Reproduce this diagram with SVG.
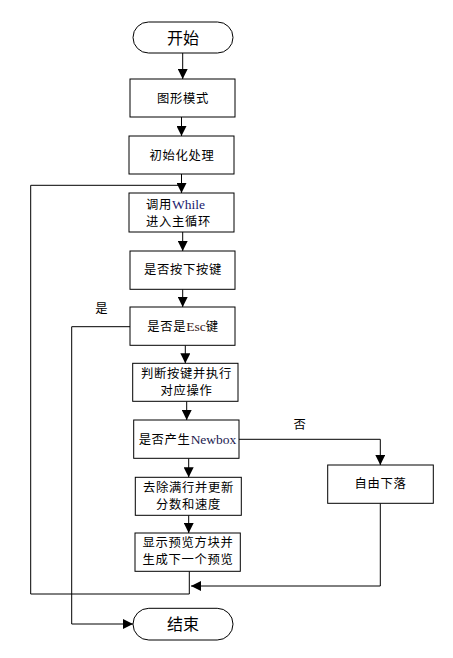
<svg xmlns="http://www.w3.org/2000/svg" width="453" height="658" viewBox="0 0 453 658">
<defs>
<marker id="arr" markerUnits="userSpaceOnUse" markerWidth="10" markerHeight="10" refX="10" refY="5" orient="auto">
<path d="M0,0 L10,5 L0,10 z" fill="#000"/>
</marker>
<style>
.box{fill:#fff;stroke:#000;stroke-width:1}
.t{font-family:"Noto Sans CJK SC","Noto Sans",sans-serif;font-size:12.3px;letter-spacing:0.7px;fill:#000}
.tt{font-family:"Noto Sans CJK SC","Noto Sans",sans-serif;font-size:16px;fill:#000}
.en{font-family:"Liberation Serif",serif;font-size:13.5px;letter-spacing:0}
.c{fill:none;stroke:#000;stroke-width:1}
.a{marker-end:url(#arr)}
</style>
</defs>
<rect width="453" height="658" fill="#fff"/>
<g id="connectors">
<line class="c a" x1="182.7" y1="53" x2="182.7" y2="79"/>
<line class="c a" x1="181.5" y1="117" x2="181.5" y2="136"/>
<polyline class="c" points="189.3,571.3 189.3,594 30.7,594 30.7,185.3 181.5,185.3"/>
<line class="c a" x1="181.5" y1="174" x2="181.5" y2="193"/>
<line class="c a" x1="182.7" y1="232" x2="182.7" y2="251"/>
<line class="c a" x1="182.7" y1="289.3" x2="182.7" y2="307"/>
<polyline class="c a" points="130,326.7 71.7,326.7 71.7,624 133,624"/>
<line class="c a" x1="185.3" y1="345.3" x2="185.3" y2="363.3"/>
<line class="c a" x1="186.7" y1="401.3" x2="186.7" y2="420"/>
<polyline class="c a" points="239,439.3 380.3,439.3 380.3,465"/>
<line class="c a" x1="188.7" y1="458.3" x2="188.7" y2="477.3"/>
<line class="c a" x1="188.7" y1="515.3" x2="188.7" y2="533"/>
<polyline class="c a" points="380.3,503.3 380.3,586 191,586"/>
<text class="t" x="101.7" y="312.5" text-anchor="middle">是</text>
<text class="t" x="300" y="428.5" text-anchor="middle">否</text>
</g>
<g id="start">
<rect class="box" x="133" y="22" width="100" height="31" rx="15.5"/>
<text class="tt" x="183" y="43.5" text-anchor="middle">开始</text>
</g>
<g id="graphmode">
<rect class="box" x="130" y="79" width="105" height="38"/>
<text class="t" x="183" y="102.5" text-anchor="middle">图形模式</text>
</g>
<g id="init">
<rect class="box" x="129" y="136" width="105" height="38"/>
<text class="t" x="182" y="159.5" text-anchor="middle">初始化处理</text>
</g>
<g id="while">
<rect class="box" x="129" y="193" width="105" height="39"/>
<text class="t" x="146" y="208.5"><tspan>调用</tspan><tspan class="en" fill="#1a1a6e">While</tspan></text>
<text class="t" x="146" y="225.5">进入主循环</text>
</g>
<g id="keypress">
<rect class="box" x="130" y="251" width="105" height="38.3"/>
<text class="t" x="183" y="273.5" text-anchor="middle">是否按下按键</text>
</g>
<g id="esc">
<rect class="box" x="130" y="307" width="105" height="38.3"/>
<text class="t" x="183" y="330.5" text-anchor="middle"><tspan>是否是</tspan><tspan class="en" fill="#3a1a1a">Esc</tspan><tspan>键</tspan></text>
</g>
<g id="judge">
<rect class="box" x="132.7" y="363.3" width="105.3" height="38"/>
<text class="t" x="186.5" y="378" text-anchor="middle">判断按键并执行</text>
<text class="t" x="186.5" y="395.3" text-anchor="middle">对应操作</text>
</g>
<g id="newbox">
<rect class="box" x="133.7" y="420" width="105.3" height="38.3"/>
<text class="t" x="187.5" y="443.5" text-anchor="middle"><tspan>是否产生</tspan><tspan class="en" fill="#1a1a4e">Newbox</tspan></text>
</g>
<g id="fall">
<rect class="box" x="327.7" y="465" width="105.6" height="38.3"/>
<text class="t" x="380.5" y="488" text-anchor="middle">自由下落</text>
</g>
<g id="clear">
<rect class="box" x="135.3" y="477.3" width="106" height="38"/>
<text class="t" x="188.5" y="491.5" text-anchor="middle">去除满行并更新</text>
<text class="t" x="188.5" y="509" text-anchor="middle">分数和速度</text>
</g>
<g id="preview">
<rect class="box" x="135" y="533" width="105.3" height="38.3"/>
<text class="t" x="188" y="547" text-anchor="middle">显示预览方块并</text>
<text class="t" x="188" y="564.3" text-anchor="middle">生成下一个预览</text>
</g>
<g id="end">
<rect class="box" x="133" y="608.3" width="100" height="31.7" rx="15.8"/>
<text class="tt" x="183" y="630" text-anchor="middle">结束</text>
</g>
</svg>
